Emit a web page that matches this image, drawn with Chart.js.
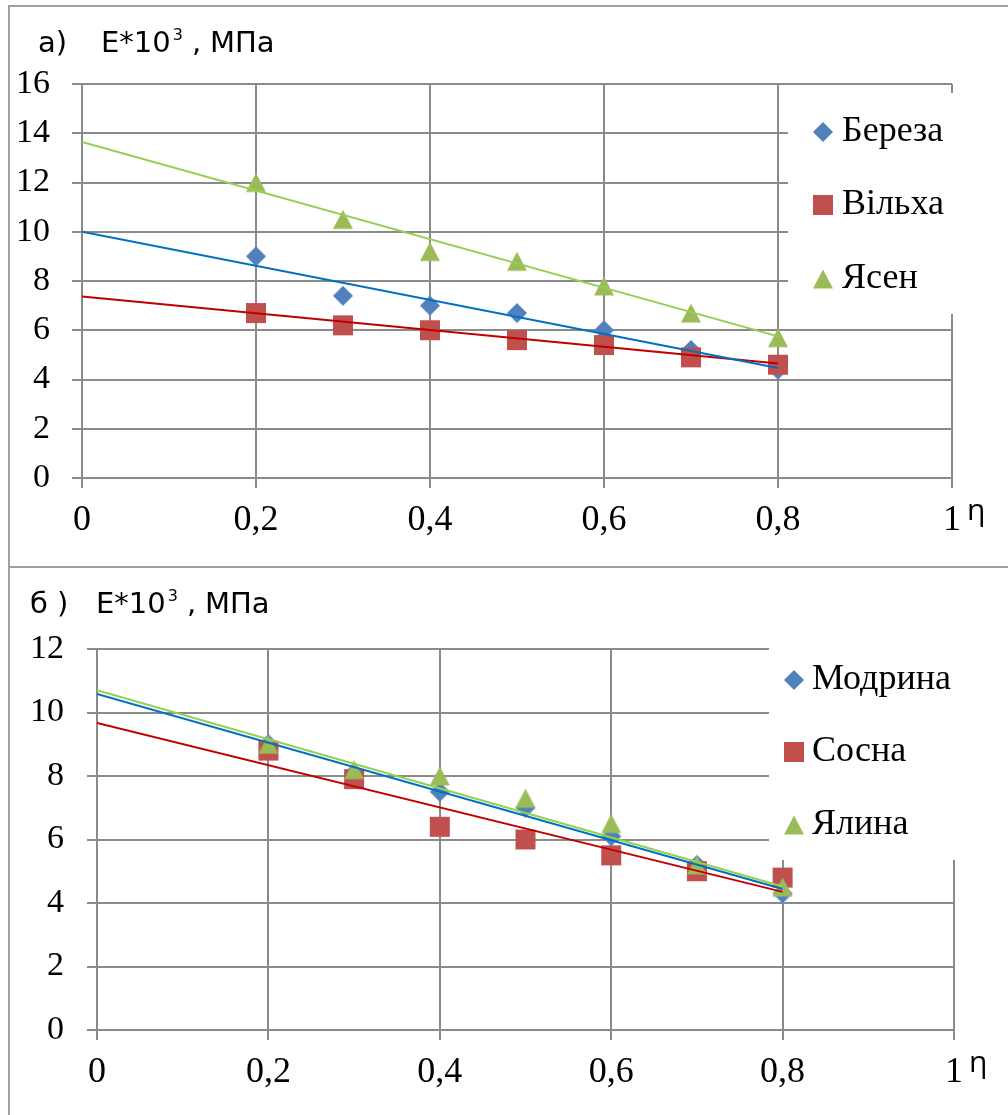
<!DOCTYPE html>
<html>
<head>
<meta charset="utf-8">
<title>E(η)</title>
<script src="https://cdn.jsdelivr.net/npm/chart.js@4.4.0/dist/chart.umd.min.js"></script>
<style>
  html, body { margin: 0; padding: 0; background: #fff; }
  #page { position: relative; width: 1008px; height: 1115px; overflow: hidden; }
  .panel { position: absolute; left: 0; }
  .frame { position: absolute; left: 8px; right: -4px; border-top: 2px solid #a0a0a0; border-left: 2px solid #a0a0a0; pointer-events: none; }
</style>
</head>
<body>
<div id="page">
  <canvas id="chartA" class="panel" width="1008" height="568" style="top:0;width:1008px;height:568px"></canvas>
  <canvas id="chartB" class="panel" width="1008" height="547" style="top:568px;width:1008px;height:547px"></canvas>
  <div class="frame" style="top:5px;height:1112px"></div>
  <div class="frame" style="top:566px;height:551px"></div>
</div>
<script>
// η values, same for both panels
const eta = [0.2, 0.3, 0.4, 0.5, 0.6, 0.7, 0.8];
const xTickLabels = ["0", "0,2", "0,4", "0,6", "0,8", "1"];

// trend lines are given by their values at η = 0 and η = 0.8
const trendEta = [0, 0.8];

// panel а)
const yTickLabelsA = ["0", "2", "4", "6", "8", "10", "12", "14", "16"];
const berezaE = [9.0, 7.4, 7.0, 6.7, 6.0, 5.2, 4.4];
const vilkhaE = [6.7, 6.2, 6.0, 5.6, 5.4, 4.9, 4.6];
const yasenE = [12.0, 10.5, 9.2, 8.8, 7.8, 6.7, 5.7];
const berezaTrend = [10.0, 4.47];
const vilkhaTrend = [7.37, 4.65];
const yasenTrend = [13.65, 5.75];

// panel б)
const yTickLabelsB = ["0", "2", "4", "6", "8", "10", "12"];
const modrynaE = [9.0, 8.1, 7.5, 7.0, 6.1, 5.2, 4.3];
const sosnaE = [8.8, 7.9, 6.4, 6.0, 5.5, 5.0, 4.8];
const yalynaE = [9.0, 8.2, 8.0, 7.3, 6.5, 5.2, 4.5];
const modrynaTrend = [10.58, 4.44];
const sosnaTrend = [9.67, 4.35];
const yalynaTrend = [10.7, 4.52];

const BLUE = "#4f81bd", RED = "#c0504d", GREEN = "#9bbb59";
const BLUE_LINE = "#0070c0", RED_LINE = "#c00000", GREEN_LINE = "#92d050";
const GRID = "#8a8a8a";
const SERIF = "'Liberation Serif', 'Times New Roman', serif";
const SANS = "'DejaVu Sans', 'Open Sans', sans-serif";

// marker sprites, used both on the plot and in the legend box
function marker(shape, color) {
  const c = document.createElement("canvas");
  c.width = 22; c.height = 22;
  const g = c.getContext("2d");
  g.fillStyle = color;
  g.beginPath();
  if (shape === "diamond") {
    g.moveTo(11, 1); g.lineTo(21, 11); g.lineTo(11, 21); g.lineTo(1, 11);
  } else if (shape === "square") {
    g.rect(1, 1, 20, 20);
  } else {
    g.moveTo(11, 1.5); g.lineTo(21, 20.5); g.lineTo(1, 20.5);
  }
  g.closePath();
  g.fill();
  return c;
}

const toPoints = (xs, ys) => xs.map((x, i) => ({ x: x, y: ys[i] }));

// white legend box laid over the right part of the plot
const boxLegend = {
  id: "boxLegend",
  afterDraw(chart, args, opts) {
    const ctx = chart.ctx;
    ctx.save();
    ctx.fillStyle = "#fff";
    ctx.fillRect(opts.x, opts.y, opts.w, opts.h);
    ctx.font = "36px " + SERIF;
    ctx.fillStyle = "#000";
    ctx.textBaseline = "middle";
    ctx.textAlign = "left";
    const items = chart.data.datasets.filter(d => d.inLegend);
    items.forEach((d, i) => {
      const y = opts.rows[i];
      const img = d.pointStyle;
      ctx.drawImage(img, opts.markerX - img.width / 2, y - img.height / 2);
      ctx.fillText(d.label, opts.textX, y);
    });
    ctx.restore();
  }
};

// panel caption "а)  E*10³ , МПа" and the η mark after the last x tick
const caption = {
  id: "caption",
  afterDraw(chart, args, opts) {
    const ctx = chart.ctx;
    const b = opts.baseline;
    ctx.save();
    ctx.fillStyle = "#000";
    ctx.textBaseline = "alphabetic";
    ctx.textAlign = "left";
    ctx.font = "29px " + SANS;
    ctx.fillText(opts.prefix, opts.prefixX, b);
    let x = opts.textX;
    ctx.fillText("E*10", x, b);
    x += ctx.measureText("E*10").width + 2;
    ctx.font = "16px " + SANS;
    ctx.fillText("3", x, b - 12);
    x += ctx.measureText("3").width + 9;
    ctx.font = "29px " + SANS;
    ctx.fillText(",", x, b);
    x += 18;
    ctx.fillText("МПа", x, b);

    const xs = chart.scales.x;
    ctx.font = "30px 'Open Sans', sans-serif";
    ctx.fillText("η", xs.getPixelForValue(1) + 15, chart.chartArea.bottom + 42);
    ctx.restore();
  }
};

function buildPanel(id, p) {
  const datasets = [];
  p.series.forEach((s, k) => {
    datasets.push({
      type: "scatter",
      label: s.label,
      inLegend: true,
      data: toPoints(eta, s.values),
      pointStyle: marker(s.shape, s.color),
      pointRadius: 10,
      pointHoverRadius: 10,
      showLine: false,
      order: 3 - k
    });
  });
  p.series.forEach(s => {
    datasets.push({
      type: "line",
      label: s.label + " (тренд)",
      data: toPoints(trendEta, s.trend),
      borderColor: s.lineColor,
      borderWidth: 2,
      pointRadius: 0,
      fill: false,
      tension: 0,
      order: 0
    });
  });

  const canvas = document.getElementById(id);
  const H = canvas.height, W = canvas.width;
  const area = p.area;
  const xAxisH = 60;

  return new Chart(canvas, {
    type: "scatter",
    data: { datasets: datasets },
    options: {
      responsive: false,
      animation: false,
      events: [],
      layout: {
        padding: { left: 0, top: area.top, right: W - area.right, bottom: H - area.bottom - xAxisH }
      },
      scales: {
        x: {
          type: "linear",
          min: 0,
          max: 1,
          afterFit: s => { s.height = xAxisH; },
          ticks: {
            stepSize: 0.2,
            autoSkip: false,
            maxRotation: 0,
            padding: 11,
            color: "#000",
            font: { family: SERIF, size: 36 },
            callback: (v, i) => xTickLabels[i]
          },
          grid: { color: GRID, lineWidth: 2, tickLength: 10 },
          border: { color: GRID, width: 2 }
        },
        y: {
          min: 0,
          max: p.yMax,
          afterFit: s => { s.width = area.left; },
          ticks: {
            stepSize: 2,
            autoSkip: false,
            padding: p.yPad,
            color: "#000",
            font: { family: SERIF, size: 34 },
            callback: (v, i) => p.yLabels[i]
          },
          grid: { color: GRID, lineWidth: 2, tickLength: 10 },
          border: { color: GRID, width: 2 }
        }
      },
      plugins: {
        legend: { display: false },
        tooltip: { enabled: false },
        boxLegend: p.legend,
        caption: p.caption
      }
    },
    plugins: [boxLegend, caption]
  });
}

buildPanel("chartA", {
  area: { left: 82, top: 84, right: 952, bottom: 478 },
  yMax: 16,
  yLabels: yTickLabelsA,
  yPad: 22,
  series: [
    { label: "Береза", values: berezaE, trend: berezaTrend, shape: "diamond", color: BLUE, lineColor: BLUE_LINE },
    { label: "Вільха", values: vilkhaE, trend: vilkhaTrend, shape: "square", color: RED, lineColor: RED_LINE },
    { label: "Ясен", values: yasenE, trend: yasenTrend, shape: "triangle", color: GREEN, lineColor: GREEN_LINE }
  ],
  legend: { x: 788, y: 93, w: 230, h: 221, markerX: 823, textX: 842, rows: [132, 205, 279] },
  caption: { prefix: "а)", prefixX: 38, textX: 101, baseline: 52 }
});

buildPanel("chartB", {
  area: { left: 97, top: 81, right: 954, bottom: 462 },
  yMax: 12,
  yLabels: yTickLabelsB,
  yPad: 23,
  series: [
    { label: "Модрина", values: modrynaE, trend: modrynaTrend, shape: "diamond", color: BLUE, lineColor: BLUE_LINE },
    { label: "Сосна", values: sosnaE, trend: sosnaTrend, shape: "square", color: RED, lineColor: RED_LINE },
    { label: "Ялина", values: yalynaE, trend: yalynaTrend, shape: "triangle", color: GREEN, lineColor: GREEN_LINE }
  ],
  legend: { x: 769, y: 72, w: 250, h: 220, markerX: 794, textX: 812, rows: [112, 184, 257] },
  caption: { prefix: "б )", prefixX: 30, textX: 96, baseline: 45 }
});
</script>
</body>
</html>
